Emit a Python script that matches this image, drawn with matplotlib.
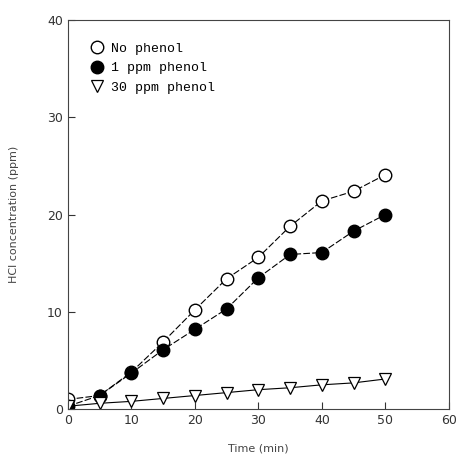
import matplotlib.pyplot as plt

# data
time_min = [0, 5, 10, 15, 20, 25, 30, 35, 40, 45, 50]
no_phenol = [1.0, 1.4, 3.8, 6.9, 10.2, 13.4, 15.6, 18.8, 21.4, 22.4, 24.1]
phenol_1ppm = [0.3, 1.4, 3.7, 6.1, 8.2, 10.3, 13.5, 15.9, 16.1, 18.3, 20.0]
phenol_30ppm = [0.3, 0.6, 0.8, 1.1, 1.4, 1.7, 2.0, 2.2, 2.5, 2.7, 3.1]

fig = plt.figure(figsize=(4.58, 4.66), dpi=100)
ax = fig.add_axes([0.148, 0.122, 0.832, 0.835])

ax.plot(time_min, no_phenol, ls=(0, (6, 2)), color="black", lw=0.8,
        marker="o", ms=9, mfc="white", mec="black", mew=1.0, label="No phenol")
ax.plot(time_min, phenol_1ppm, ls=(0, (6, 2)), color="black", lw=0.8,
        marker="o", ms=9, mfc="black", mec="black", label="1 ppm phenol")
ax.plot(time_min, phenol_30ppm, ls="-", color="black", lw=0.8,
        marker="v", ms=8, mfc="white", mec="black", mew=0.9, label="30 ppm phenol")

ax.set_xlim(0, 60)
ax.set_ylim(0, 40)
ax.set_xticks(range(0, 61, 10))
ax.set_yticks(range(0, 41, 10))
ax.tick_params(direction="in", length=5, labelsize=9, colors="#333333")
for s in ax.spines.values():
    s.set_linewidth(0.8)
    s.set_color("#444444")

ax.set_xlabel("Time (min)", fontsize=8, color="#444444", labelpad=12)
ax.set_ylabel("HCl concentration (ppm)", fontsize=8, color="#444444", labelpad=20)

ax.legend(loc="upper left", frameon=False, handletextpad=0.6,
          handlelength=1.0, borderaxespad=1.3, labelspacing=0.55,
          prop={"family": "Liberation Mono", "size": 9.5})
leg = ax.get_legend()
for line in leg.get_lines():
    line.set_linestyle("none")

fig.savefig("out.png", dpi=100)
